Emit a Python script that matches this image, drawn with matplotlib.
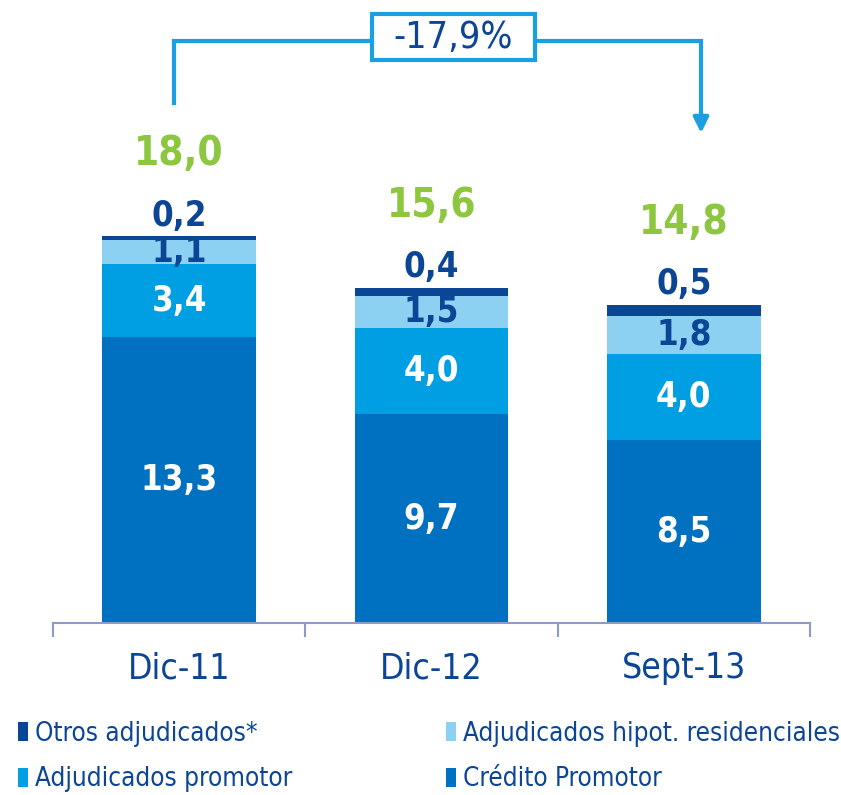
import numpy as np
import matplotlib
matplotlib.use("Agg")
import matplotlib.pyplot as plt
from matplotlib.patches import Rectangle

categories = ["Dic-11", "Dic-12", "Sept-13"]
credito_promotor = [13.3, 9.7, 8.5]
adjud_promotor = [3.4, 4.0, 4.0]
adjud_hipot = [1.1, 1.5, 1.8]
otros_adjud = [0.2, 0.4, 0.5]
totals = [18.0, 15.6, 14.8]
change_label = "-17,9%"

series = [
    ("Crédito Promotor", credito_promotor, "#0070C0"),
    ("Adjudicados promotor", adjud_promotor, "#009FE3"),
    ("Adjudicados hipot. residenciales", adjud_hipot, "#8CD1F2"),
    ("Otros adjudicados*", otros_adjud, "#0B4596"),
]

DARK = "#0B4596"
GREEN = "#8DC63F"
LINE = "#1AA0E2"
FONT = ["DejaVu Sans"]
STRETCH = "condensed"


def fmt(v):
    return f"{v:.1f}".replace(".", ",")


W, H = 841, 795
fig = plt.figure(figsize=(W / 100, H / 100), dpi=100)
# axes: x from 53px to 810px, y from baseline (623px) up to top of figure
ax = fig.add_axes([53 / W, 1 - 623 / H, (810 - 53) / W, 623 / H])
px_per_unit = 21.5
ax.set_xlim(-0.5, 2.5)
ax.set_ylim(0, 623 / px_per_unit)
ax.axis("off")


def px_x(p):
    return -0.5 + (p - 53) / 252.33


def px_y(p):
    return (623 - p) / px_per_unit


x = np.arange(len(categories))
width = 0.61
bottom = np.zeros(len(categories))
for name, vals, col in series:
    ax.bar(x, vals, width, bottom=bottom, color=col, linewidth=0, label=name)
    bottom += np.array(vals)

num_kw = dict(ha="center", va="center", fontsize=25, fontweight="bold",
              family=FONT, fontstretch=STRETCH)
# segment labels
for i in range(len(categories)):
    b = credito_promotor[i]
    ax.text(x[i], b / 2, fmt(credito_promotor[i]), color="white", **num_kw)
    ax.text(x[i], b + adjud_promotor[i] / 2, fmt(adjud_promotor[i]),
            color="white", **num_kw)
    b2 = b + adjud_promotor[i]
    ax.text(x[i], b2 + adjud_hipot[i] / 2, fmt(adjud_hipot[i]),
            color=DARK, **num_kw)
    top = b2 + adjud_hipot[i] + otros_adjud[i]
    ax.text(x[i], top + 0.95, fmt(otros_adjud[i]), color=DARK, **num_kw)
    ax.text(x[i], top + 3.8, fmt(totals[i]), ha="center", va="center",
            color=GREEN, fontsize=29, fontweight="bold", family=FONT,
            fontstretch=STRETCH)

# axis line with separators
ax.plot([-0.5, 2.5], [0, 0], color="#8C9CC4", lw=1.5, clip_on=False)
for s in np.arange(-0.5, 3.0, 1.0):
    ax.plot([s, s], [0, -0.6], color="#8C9CC4", lw=1.5, clip_on=False)
for i, c in enumerate(categories):
    ax.text(x[i], -2.1, c, ha="center", va="center", color=DARK,
            fontsize=25.5, family=FONT, fontstretch=STRETCH)

# bracket with change label
y_line = px_y(41)
xl, xr = px_x(174), px_x(701)
ax.plot([xl, xl, xr, xr], [px_y(103), y_line, y_line, px_y(118)],
        color=LINE, lw=3, clip_on=False, solid_joinstyle="miter")
ax.annotate("", xy=(xr, px_y(133)), xytext=(xr, px_y(116)),
            arrowprops=dict(arrowstyle="-|>,head_length=0.9,head_width=0.45",
                            color=LINE, lw=3, shrinkA=0, shrinkB=0))
ax.add_patch(Rectangle((px_x(372), px_y(60)), px_x(535) - px_x(372),
                       px_y(14) - px_y(60), fc="white", ec=LINE, lw=3,
                       clip_on=False, zorder=3))
ax.text(px_x(453), px_y(38), change_label, ha="center", va="center",
        color=DARK, fontsize=27, family=FONT, fontstretch=STRETCH, zorder=4)

# legend (column-wise fill: Otros, Adj. promotor | Hipot., Crédito)
handles, labels = ax.get_legend_handles_labels()
order = [3, 1, 2, 0]
leg = fig.legend([handles[k] for k in order], [labels[k] for k in order],
                 loc="upper left", bbox_to_anchor=(18 / W, 1 - 721 / H),
                 borderaxespad=0, borderpad=0,
                 ncol=2, frameon=False, handlelength=0.4, handleheight=0.75,
                 handletextpad=0.25, columnspacing=5.9, labelspacing=0.74,
                 prop={"family": FONT, "size": 18.75, "stretch": STRETCH})
for t in leg.get_texts():
    t.set_color(DARK)

fig.savefig("out.png", dpi=100)
